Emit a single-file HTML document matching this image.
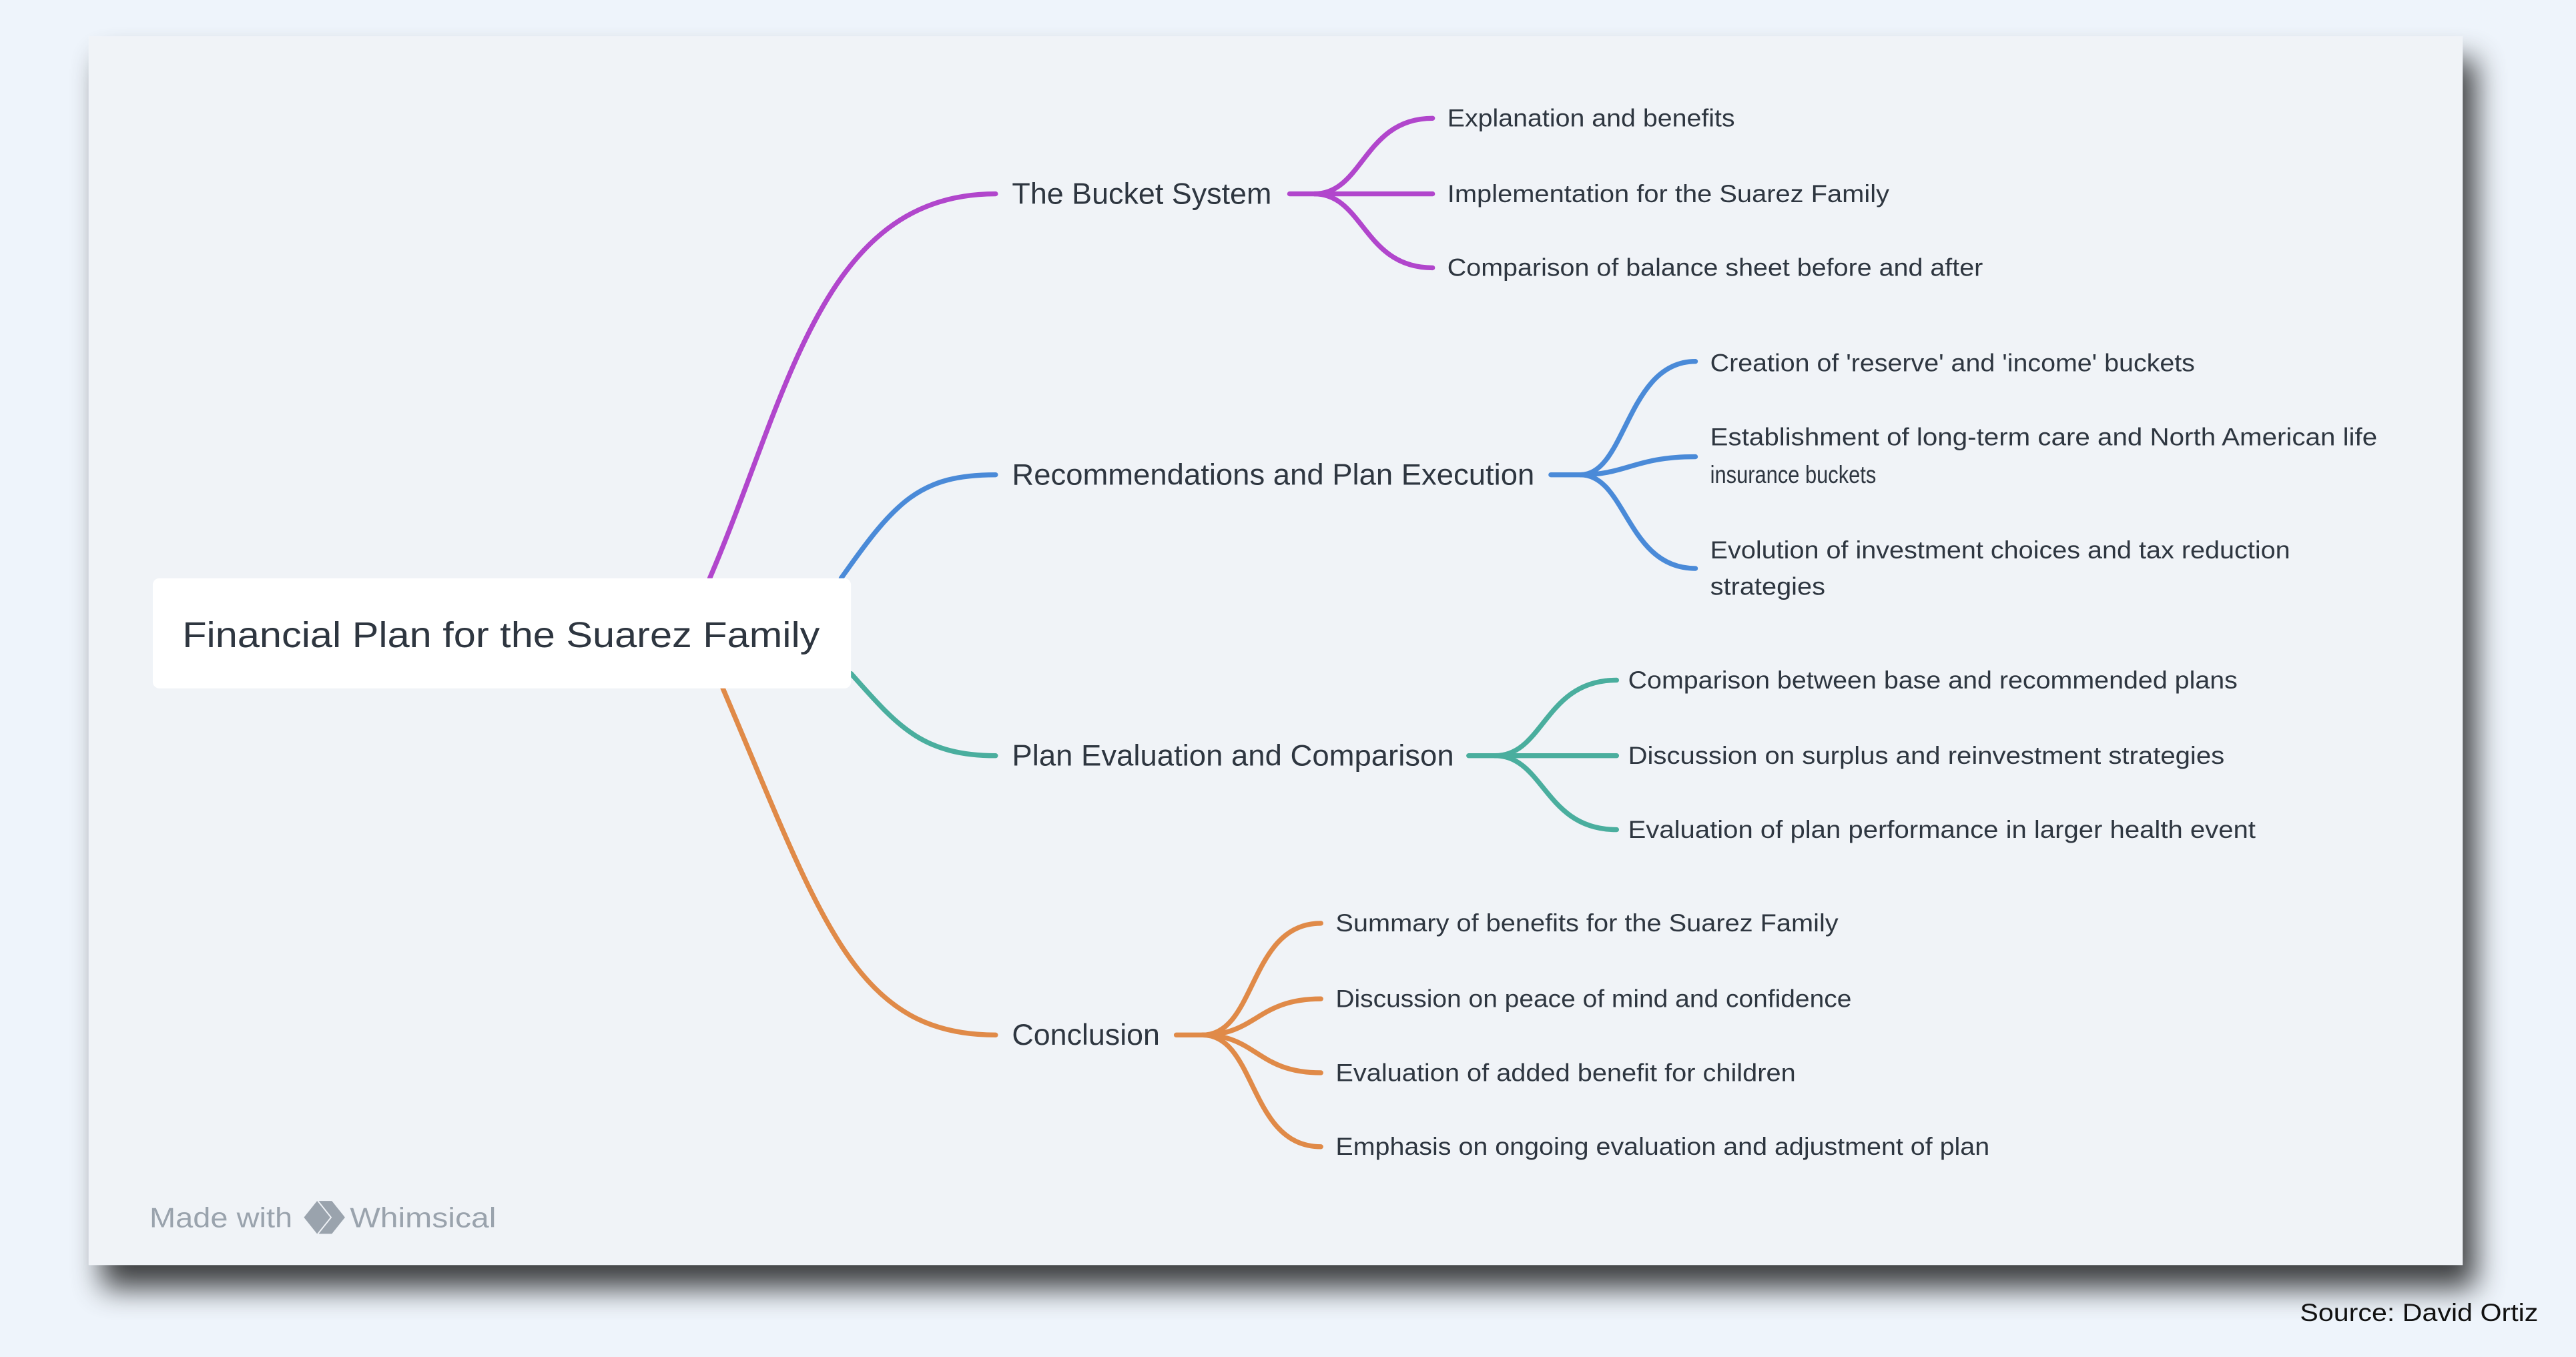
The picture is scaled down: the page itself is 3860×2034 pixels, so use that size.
<!DOCTYPE html>
<html><head><meta charset="utf-8"><style>
html,body{margin:0;padding:0;background:#eef4fb;}
svg{display:block;}
text{font-family:"Liberation Sans",sans-serif;fill:#2e3640;}
</style></head><body>
<svg width="3860" height="2034" viewBox="0 0 1568 826" preserveAspectRatio="none" xmlns="http://www.w3.org/2000/svg">
<defs>
<filter id="sh" x="-5%" y="-5%" width="115%" height="125%">
<feGaussianBlur in="SourceAlpha" stdDeviation="9"/>
<feOffset dx="8" dy="14" result="b"/>
<feComponentTransfer><feFuncA type="linear" slope="0.75"/></feComponentTransfer>
<feMerge><feMergeNode/><feMergeNode in="SourceGraphic"/></feMerge>
</filter>
</defs>
<rect width="1568" height="826" fill="#eef4fb"/>
<rect x="54" y="22" width="1445" height="748" fill="#f0f3f7" filter="url(#sh)"/>
<g fill="none" stroke-width="3" stroke-linecap="round">
<path d="M432,352 C480,240 500,118 606,118" stroke="#b146cc"/>
<path d="M512,352 C545,305 560,289 606,289" stroke="#4a8ad8"/>
<path d="M518,410 C545,440 560,460 606,460" stroke="#4aae9e"/>
<path d="M440,419 C500,560 520,630 606,630" stroke="#e08a48"/>
<g stroke="#b146cc"><path d="M785,118 L872,118"/><path d="M800,118 C830,118 830,72 872,72"/><path d="M800,118 C830,118 830,163 872,163"/></g>
<g stroke="#4a8ad8"><path d="M944,289 L962,289 C990,289 990,220 1032,220"/><path d="M962,289 C990,289 995,278 1032,278"/><path d="M962,289 C990,289 990,346 1032,346"/></g>
<g stroke="#4aae9e"><path d="M894,460 L984,460"/><path d="M910,460 C940,460 940,414 984,414"/><path d="M910,460 C940,460 940,505 984,505"/></g>
<g stroke="#e08a48"><path d="M716,630 L732,630 C765,630 760,562 804,562"/><path d="M732,630 C765,630 765,608 804,608"/><path d="M732,630 C765,630 765,653 804,653"/><path d="M732,630 C765,630 760,698 804,698"/></g>
</g>
<rect x="93" y="352" width="425" height="67" rx="4" fill="#ffffff"/>
<text x="111" y="394" font-size="22" textLength="388" lengthAdjust="spacingAndGlyphs">Financial Plan for the Suarez Family</text>
<g font-size="18">
<text x="616" y="124" textLength="158" lengthAdjust="spacingAndGlyphs">The Bucket System</text>
<text x="616" y="295" textLength="318" lengthAdjust="spacingAndGlyphs">Recommendations and Plan Execution</text>
<text x="616" y="466" textLength="269" lengthAdjust="spacingAndGlyphs">Plan Evaluation and Comparison</text>
<text x="616" y="636" textLength="90" lengthAdjust="spacingAndGlyphs">Conclusion</text>
</g>
<g font-size="15">
<text x="881" y="77" textLength="175" lengthAdjust="spacingAndGlyphs">Explanation and benefits</text>
<text x="881" y="123" textLength="269" lengthAdjust="spacingAndGlyphs">Implementation for the Suarez Family</text>
<text x="881" y="168" textLength="326" lengthAdjust="spacingAndGlyphs">Comparison of balance sheet before and after</text>
<text x="1041" y="226" textLength="295" lengthAdjust="spacingAndGlyphs">Creation of 'reserve' and 'income' buckets</text>
<text x="1041" y="271" textLength="406" lengthAdjust="spacingAndGlyphs">Establishment of long-term care and North American life</text>
<text x="1041" y="294" textLength="101" lengthAdjust="spacingAndGlyphs">insurance buckets</text>
<text x="1041" y="340" textLength="353" lengthAdjust="spacingAndGlyphs">Evolution of investment choices and tax reduction</text>
<text x="1041" y="362" textLength="70" lengthAdjust="spacingAndGlyphs">strategies</text>
<text x="991" y="419" textLength="371" lengthAdjust="spacingAndGlyphs">Comparison between base and recommended plans</text>
<text x="991" y="465" textLength="363" lengthAdjust="spacingAndGlyphs">Discussion on surplus and reinvestment strategies</text>
<text x="991" y="510" textLength="382" lengthAdjust="spacingAndGlyphs">Evaluation of plan performance in larger health event</text>
<text x="813" y="567" textLength="306" lengthAdjust="spacingAndGlyphs">Summary of benefits for the Suarez Family</text>
<text x="813" y="613" textLength="314" lengthAdjust="spacingAndGlyphs">Discussion on peace of mind and confidence</text>
<text x="813" y="658" textLength="280" lengthAdjust="spacingAndGlyphs">Evaluation of added benefit for children</text>
<text x="813" y="703" textLength="398" lengthAdjust="spacingAndGlyphs">Emphasis on ongoing evaluation and adjustment of plan</text>
</g>
<text x="91" y="747" font-size="17" style="fill:#9aa3ad" textLength="87" lengthAdjust="spacingAndGlyphs">Made with</text>
<path d="M185,741 L193,731 L201,741 L193,751 Z M194,731 L202,731 L210,741 L202,751 L194,751 L202,741 Z" fill="#9aa3ad"/>
<text x="213" y="747" font-size="17" style="fill:#9aa3ad" textLength="89" lengthAdjust="spacingAndGlyphs">Whimsical</text>
<text x="1400" y="804" font-size="15" style="fill:#111" textLength="145" lengthAdjust="spacingAndGlyphs">Source: David Ortiz</text>
</svg>
</body></html>
